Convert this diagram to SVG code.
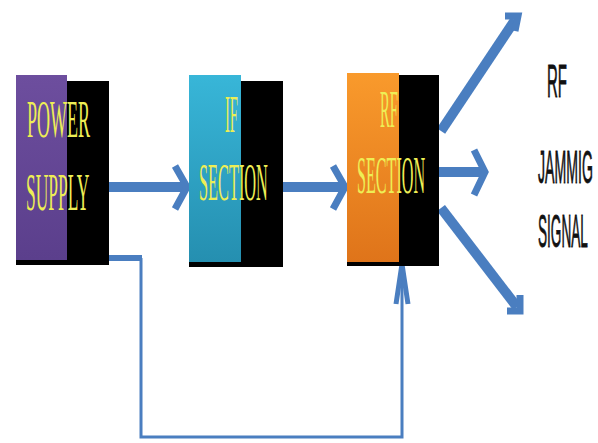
<svg xmlns="http://www.w3.org/2000/svg" width="598" height="443" viewBox="0 0 598 443">
  <defs>
    <linearGradient id="gPurple" x1="0" y1="0" x2="0" y2="1">
      <stop offset="0" stop-color="#6d4e9e"/>
      <stop offset="1" stop-color="#5b3f8c"/>
    </linearGradient>
    <linearGradient id="gCyan" x1="0" y1="0" x2="0" y2="1">
      <stop offset="0" stop-color="#38b6d8"/>
      <stop offset="1" stop-color="#258fb0"/>
    </linearGradient>
    <linearGradient id="gOrange" x1="0" y1="0" x2="0" y2="1">
      <stop offset="0" stop-color="#f99a2c"/>
      <stop offset="1" stop-color="#df741a"/>
    </linearGradient>
  </defs>
  <style>
    .shadow { fill: #000000; }
    .lbl { font-family: "Liberation Serif", "Times New Roman", serif; font-size: 52px; fill: #eeee55; }
    .out { font-family: "Liberation Sans", Arial, sans-serif; font-size: 46px; fill: #111111; stroke: #111111; stroke-width: 0.8; }
    .bar { stroke: #4a7ec0; stroke-width: 10; fill: none; }
    .head { stroke: #4a7ec0; stroke-width: 7; fill: none; stroke-linejoin: miter; }
    .thin { stroke: #4a7ec0; stroke-width: 3; fill: none; }
  </style>

  <g id="connectors">
    <!-- power supply to IF section -->
    <line class="bar" x1="109" y1="187" x2="185" y2="187"/>
    <polyline class="head" points="175,166 187,187 175,209"/>
    <!-- IF section to RF section -->
    <line class="bar" x1="283" y1="187" x2="343" y2="187"/>
    <polyline class="head" points="333,166 345,187 333,209"/>
    <!-- RF outputs -->
    <line class="bar" x1="439" y1="172" x2="482" y2="172"/>
    <polyline class="head" points="474,150 485,172 474,195"/>
    <line class="bar" x1="441" y1="131" x2="515" y2="20"/>
    <polyline class="head" points="505,16 518,16 515,31"/>
    <line class="bar" x1="441" y1="208" x2="517" y2="307"/>
    <polyline class="head" points="520,295 520,311 507,311"/>
    <!-- feedback from power supply to RF section -->
    <line x1="109" y1="258" x2="142" y2="258" stroke="#4a7ec0" stroke-width="6"/>
    <polyline class="thin" points="141,258 141,437 402,437 402,262"/>
    <polyline class="head" style="stroke-width:5" points="396,304 402,264 408,304"/>
  </g>

  <g id="power-supply">
    <rect class="shadow" x="16" y="81" width="93" height="184"/>
    <rect x="16" y="75" width="51" height="185" fill="url(#gPurple)"/>
    <text class="lbl" transform="translate(27 137) scale(0.346 1)">POWER</text>
    <text class="lbl" transform="translate(26 210) scale(0.336 1)">SUPPLY</text>
  </g>

  <g id="if-section">
    <rect class="shadow" x="189" y="81" width="94" height="186"/>
    <rect x="189" y="75" width="52" height="187" fill="url(#gCyan)"/>
    <text class="lbl" transform="translate(225 132) scale(0.281 1)">IF</text>
    <text class="lbl" transform="translate(199 200) scale(0.314 1)">SECTION</text>
  </g>

  <g id="rf-section">
    <rect class="shadow" x="347" y="75" width="92" height="191"/>
    <rect x="347" y="73" width="52" height="189" fill="url(#gOrange)"/>
    <text class="lbl" transform="translate(380 127) scale(0.283 1)">RF</text>
    <text class="lbl" transform="translate(357 193) scale(0.31 1)">SECTION</text>
  </g>

  <g id="rf-jamming-signal">
    <text class="out" transform="translate(547 97) scale(0.326 1)">RF</text>
    <text class="out" transform="translate(538 183) scale(0.307 1)">JAMMIG</text>
    <text class="out" transform="translate(538 247) scale(0.296 1)">SIGNAL</text>
  </g>
</svg>
